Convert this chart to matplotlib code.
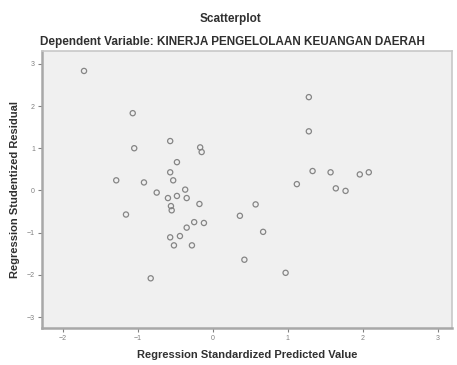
import matplotlib
matplotlib.use("Agg")
import matplotlib.pyplot as plt

predicted = [-1.72, -1.07, -1.05, -1.29, -0.92, -1.16, -0.75, -0.57, -0.48, -0.57,
             -0.53, -0.17, -0.15, -0.37, -0.60, -0.48, -0.35, -0.56, -0.55, -0.18,
             -0.25, -0.12, -0.35, -0.57, -0.44, -0.52, -0.28, -0.83, 0.36, 0.42,
             0.97, 0.67, 0.57, 1.28, 1.28, 1.33, 1.57, 1.96, 2.08, 1.12, 1.64, 1.77]
residual = [2.83, 1.83, 1.00, 0.24, 0.19, -0.57, -0.05, 1.17, 0.67, 0.43,
            0.24, 1.02, 0.91, 0.02, -0.18, -0.13, -0.18, -0.37, -0.47, -0.32,
            -0.75, -0.77, -0.88, -1.11, -1.08, -1.30, -1.30, -2.08, -0.60, -1.64,
            -1.95, -0.98, -0.33, 2.21, 1.40, 0.46, 0.43, 0.38, 0.43, 0.15, 0.05, -0.01]

xticks = [-2, -1, 0, 1, 2, 3]
yticks = [-3, -2, -1, 0, 1, 2, 3]

plt.rcParams['font.family'] = ['Liberation Sans', 'DejaVu Sans']

fig = plt.figure(figsize=(4.57, 3.65), dpi=100)
ax = fig.add_axes([0.092, 0.101, 0.897, 0.759])
ax.set_facecolor('#f0f0f0')

ax.scatter(predicted, residual, s=14, facecolors='none', edgecolors='#858585', linewidths=0.9)

ax.set_xlim(-2.28, 3.19)
ax.set_ylim(-3.26, 3.3)
ax.set_xticks(xticks)
ax.set_yticks(yticks)
ax.tick_params(axis='both', labelsize=5, colors='#808080', length=3, width=0.8, pad=2)

for side in ['left', 'bottom']:
    ax.spines[side].set_color('#a8a8a8')
    ax.spines[side].set_linewidth(1.8)
for side in ['top', 'right']:
    ax.spines[side].set_color('#c8c8c8')
    ax.spines[side].set_linewidth(1.2)

ax.set_xlabel('Regression Standardized Predicted Value', fontsize=8, fontweight='bold', color='#303030', labelpad=6)
ax.set_ylabel('Regression Studentized Residual', fontsize=8, fontweight='bold', color='#303030', labelpad=5)

fig.text(0.505, 1 - 19/365, 'Scatterplot', ha='center', va='center', fontsize=8.5, fontweight='bold', color='#303030')
fig.text(0.509, 1 - 42/365, 'Dependent Variable: KINERJA PENGELOLAAN KEUANGAN DAERAH', ha='center', va='center',
         fontsize=8.5, fontweight='bold', color='#303030')

fig.savefig('out.png', dpi=100)
